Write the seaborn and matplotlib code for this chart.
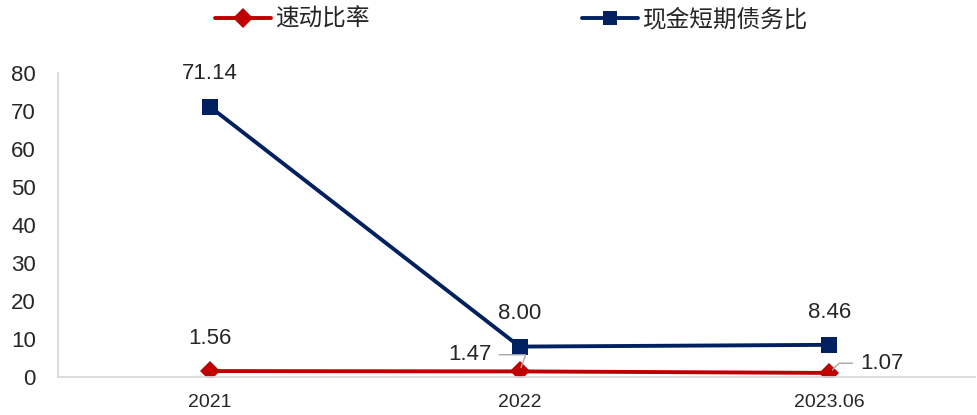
import matplotlib
matplotlib.use("Agg")
import matplotlib.pyplot as plt
import seaborn as sns
import pandas as pd
from matplotlib.lines import Line2D

categories = ["2021", "2022", "2023.06"]
quick_ratio = [1.56, 1.47, 1.07]
cash_ratio = [71.14, 8.00, 8.46]
series_names = ["速动比率", "现金短期债务比"]
yticks = [0, 10, 20, 30, 40, 50, 60, 70, 80]

sns.set_theme(style="white")
plt.rcParams['font.family'] = ['Liberation Sans', 'Noto Sans CJK SC']

df = pd.DataFrame({
    "x": list(range(len(categories))) * 2,
    "value": quick_ratio + cash_ratio,
    "series": [series_names[0]] * 3 + [series_names[1]] * 3,
})

fig = plt.figure(figsize=(9.78, 4.15), dpi=100)
ax = fig.add_axes([0.0593, 0.0916, 0.9377, 0.7325])

RED = "#C00000"
NAVY = "#002060"
palette = {series_names[0]: RED, series_names[1]: NAVY}
markers = {series_names[0]: "D", series_names[1]: "s"}
sns.lineplot(data=df, x="x", y="value", hue="series", style="series",
             palette=palette, markers=markers, dashes=False, linewidth=2.8,
             markersize=11, markeredgewidth=0, ax=ax, legend=False)
for line in ax.lines:
    if line.get_marker() == "D":
        line.set_markersize(10)

ax.set_xlim(-0.49, 2.47)
ax.set_ylim(0, 80)
ax.set_yticks(yticks)
ax.set_xticks(range(len(categories)))
ax.set_xticklabels(categories)
ax.set_xlabel("")
ax.set_ylabel("")
for s in ["top", "right"]:
    ax.spines[s].set_visible(False)
for s in ["left", "bottom"]:
    ax.spines[s].set_color("#d9d9d9")
    ax.spines[s].set_linewidth(1.3)
ax.tick_params(axis="y", direction="in", length=5, color="#d9d9d9", labelsize=16, pad=16)
ax.tick_params(axis="x", length=0, labelsize=14, pad=12)
ax.grid(False)

fs = 16
for i, v in enumerate(cash_ratio):
    ax.annotate(f"{v:.2f}", (i, v), xytext=(0, 16), textcoords="offset points",
                ha="center", va="bottom", fontsize=fs)
ax.annotate(f"{quick_ratio[0]:.2f}", (0, quick_ratio[0]), xytext=(0, 16), textcoords="offset points",
            ha="center", va="bottom", fontsize=fs)
ax.annotate(f"{quick_ratio[1]:.2f}", (1, quick_ratio[1]), xytext=(-20, 12), textcoords="offset points",
            ha="right", va="center", fontsize=fs,
            arrowprops=dict(arrowstyle="-", color="#a6a6a6", lw=1, shrinkA=3, shrinkB=3,
                            connectionstyle="angle,angleA=0,angleB=70,rad=0"))
ax.annotate(f"{quick_ratio[2]:.2f}", (2, quick_ratio[2]), xytext=(22, 7), textcoords="offset points",
            ha="left", va="center", fontsize=fs,
            arrowprops=dict(arrowstyle="-", color="#a6a6a6", lw=1, shrinkA=3, shrinkB=3,
                            connectionstyle="angle,angleA=0,angleB=45,rad=0"))

handles = [Line2D([], [], color=RED, marker="D", markersize=10, lw=2.8, markeredgewidth=0),
           Line2D([], [], color=NAVY, marker="s", markersize=10.5, lw=2.8, markeredgewidth=0)]
fig.legend(handles, series_names, loc="center", bbox_to_anchor=(0.523, 0.953), ncol=2,
           frameon=False, columnspacing=9.0, handlelength=2.35, handletextpad=0.2,
           prop={'family': ['Noto Sans CJK SC'], 'size': 17})

fig.savefig("out.png", dpi=100)
